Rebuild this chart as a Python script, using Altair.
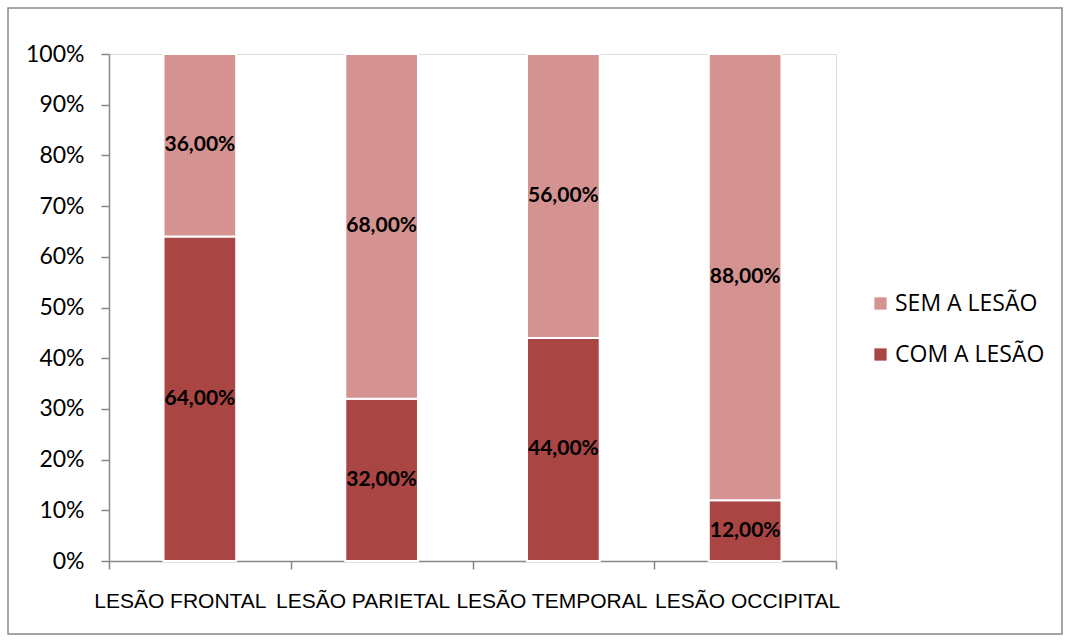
import altair as alt
import pandas as pd

categories = ["LESÃO FRONTAL", "LESÃO PARIETAL", "LESÃO TEMPORAL", "LESÃO OCCIPITAL"]
com_lesao = [64, 32, 44, 12]
sem_lesao = [36, 68, 56, 88]
series = ["COM A LESÃO", "SEM A LESÃO"]
colors = ["#A94543", "#D49391"]
label_shift = [-20, -19, -12, 2]  # layout nudge of the category labels (they run together in the original)


def fmt(v):
    return f"{v:.2f}".replace(".", ",") + "%"


rows = []
for c, a, b in zip(categories, com_lesao, sem_lesao):
    rows.append(dict(cat=c, serie=series[0], v=a / 100, ord=0, label=fmt(a)))
    rows.append(dict(cat=c, serie=series[1], v=b / 100, ord=1, label=fmt(b)))
df = pd.DataFrame(rows)

W, H = 727, 507
LEFT, TOP = 109, 54

base = alt.Chart(df).transform_stack(
    stack="v", groupby=["cat"], as_=["y0", "y1"], sort=[alt.SortField("ord", order="ascending")]
).transform_calculate(mid="(datum.y0 + datum.y1) / 2")

offset_cond = {
    "condition": [
        {"test": f"datum.value === '{c}'", "value": s} for c, s in zip(categories, label_shift)
    ],
    "value": 0,
}

x_enc = alt.X(
    "cat:N",
    sort=categories,
    scale=alt.Scale(paddingInner=0, paddingOuter=0),
    axis=alt.Axis(
        title=None, labelAngle=0, tickBand="extent", domainColor="#888888", tickColor="#888888",
        tickSize=8, tickWidth=1.5, domainWidth=1.5, labelFont="Liberation Sans", labelFontSize=21,
        labelColor="#000000", labelPadding=21, labelLimit=400, labelOverlap=False,
        labelOffset=offset_cond,
    ),
)

bars = base.mark_bar(stroke="white", strokeWidth=2, width={"band": 0.4}).encode(
    x=x_enc,
    y=alt.Y(
        "y0:Q",
        scale=alt.Scale(domain=[0, 1], nice=False),
        axis=alt.Axis(
            title=None, format=".0%", values=[i / 10 for i in range(11)], grid=False,
            domainColor="#888888", tickColor="#888888", tickSize=8, tickWidth=1.5, domainWidth=1.5,
            labelFont="Lato", labelFontSize=23, labelColor="#000000", labelPadding=17,
        ),
    ),
    y2="y1",
    color=alt.Color(
        "serie:N",
        scale=alt.Scale(domain=[series[1], series[0]], range=[colors[1], colors[0]]),
        legend=alt.Legend(
            title=None, orient="none", legendX=760, legendY=238, symbolType="square",
            symbolSize=150, symbolStrokeWidth=0, labelFont="Open Sans", labelFontSize=23,
            labelColor="#000000", rowPadding=27, labelOffset=3,
        ),
    ),
)

text = base.mark_text(font="Lato", fontWeight="bold", fontSize=21, color="#000000").encode(
    x=alt.X("cat:N", sort=categories), y=alt.Y("mid:Q"), text="label:N"
)

border = alt.Chart(alt.Data(values=[{}])).mark_rect(
    fill=None, stroke="#888888", strokeWidth=1.5
).encode(
    x=alt.value(8 - LEFT), x2=alt.value(1062 - LEFT), y=alt.value(8 - TOP), y2=alt.value(634 - TOP)
)

chart = alt.layer(border, bars, text).properties(
    width=W, height=H,
    autosize=alt.AutoSizeParams(type="none"),
    padding={"left": LEFT, "top": TOP, "right": 1068 - LEFT - W, "bottom": 641 - TOP - H},
).configure_view(stroke=None).configure(background="white")

chart.save("out.html", embed_options={"renderer": "svg", "actions": False})
